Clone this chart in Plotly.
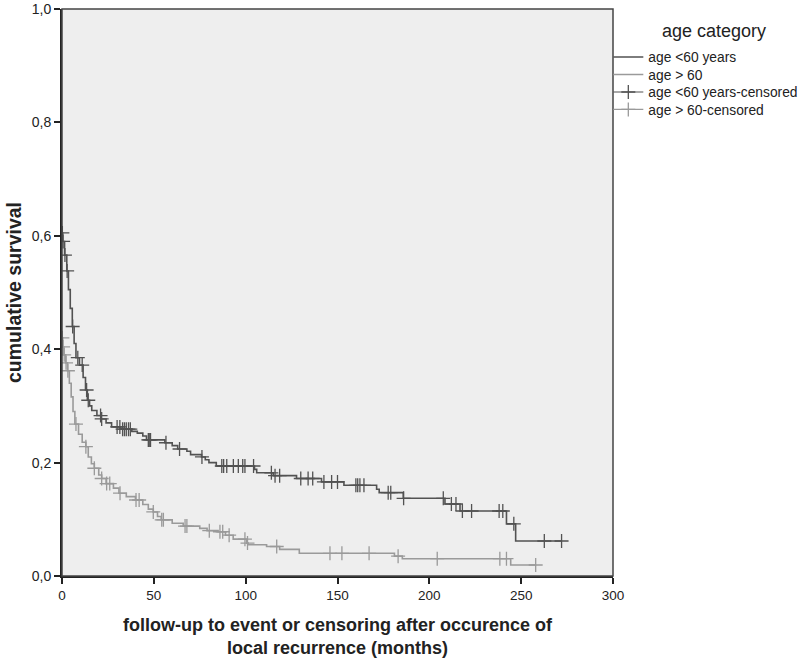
import plotly.graph_objects as go

# ---------------- data ----------------
# age < 60 years: step curve (time in months, cumulative survival after the step)
young_times = [0, 0.4, 1.4, 2.6, 3.5, 4.5, 5.6, 6.6, 7.6, 9.5, 11.5, 12.8, 13.8, 15.0, 16.2,
               19.0, 21.2, 24.0, 27.0, 32.0, 38.0, 41.0, 44.0, 46.0, 56.0, 60.0, 63.0, 68.0,
               70.0, 76.0, 78.0, 80.0, 84.0, 104.8, 106.0, 115.0, 127.7, 141.3, 153.5,
               171.3, 172.7, 185.8, 208.5, 216.7, 242.0, 247.0]
young_surv = [0.605, 0.59, 0.566, 0.538, 0.505, 0.472, 0.44, 0.41, 0.385, 0.372, 0.35, 0.328,
              0.31, 0.30, 0.292, 0.283, 0.277, 0.27, 0.263, 0.259, 0.255, 0.252, 0.247, 0.240,
              0.235, 0.230, 0.224, 0.220, 0.214, 0.210, 0.205, 0.200, 0.194, 0.188, 0.182,
              0.177, 0.172, 0.166, 0.160, 0.153, 0.147, 0.137, 0.127, 0.1146, 0.092, 0.0617]
young_end = 272.0
young_censored = [0.2, 0.6, 1.6, 2.8, 5.8, 8.6, 11.0, 13.4, 14.3, 21.0, 21.6, 30.0, 31.5, 33.0,
                  34.0, 35.0, 36.2, 37.2, 47.0, 47.5, 48.2, 56.6, 64.0, 76.2, 87.0, 88.0, 89.7,
                  93.3, 96.0, 98.4, 99.6, 104.3, 114.0, 116.0, 118.5, 130.0, 134.0, 136.5,
                  142.6, 146.8, 150.0, 160.0, 161.0, 162.2, 164.4, 177.6, 179.0, 186.0, 207.6,
                  212.0, 214.5, 218.0, 223.0, 238.0, 240.0, 246.0, 262.6, 272.0]

# age > 60
old_times = [0, 0.4, 1.0, 2.0, 3.0, 4.0, 5.0, 6.0, 7.0, 9.0, 11.0, 13.0, 14.3, 16.0, 17.6,
             20.0, 21.6, 24.0, 28.0, 31.0, 35.0, 40.0, 44.0, 47.0, 49.7, 52.0, 54.0, 60.0,
             66.0, 75.0, 79.0, 85.0, 89.0, 93.2, 100.5, 101.4, 111.4, 118.5, 129.2, 181.0,
             185.3, 244.3]
old_surv = [0.42, 0.404, 0.39, 0.376, 0.362, 0.34, 0.316, 0.29, 0.268, 0.25, 0.236, 0.228,
            0.21, 0.198, 0.19, 0.178, 0.172, 0.163, 0.155, 0.146, 0.140, 0.134, 0.126, 0.118,
            0.113, 0.105, 0.099, 0.093, 0.088, 0.084, 0.080, 0.078, 0.072, 0.065, 0.058,
            0.055, 0.052, 0.047, 0.040, 0.035, 0.0305, 0.0194]
old_end = 258.0
old_censored = [0.2, 0.6, 1.2, 2.2, 3.2, 7.6, 13.0, 17.6, 21.6, 24.3, 26.0, 31.6, 40.3, 42.0,
                49.7, 54.3, 55.2, 67.0, 68.0, 80.2, 86.0, 87.5, 91.0, 99.6, 101.0, 116.9,
                145.9, 152.4, 167.2, 183.0, 204.3, 238.4, 242.0, 257.9]

y_tick_vals = [0.0, 0.2, 0.4, 0.6, 0.8, 1.0]
y_tick_text = ["0,0", "0,2", "0,4", "0,6", "0,8", "1,0"]
x_tick_vals = [0, 50, 100, 150, 200, 250, 300]

names = ["age <60 years", "age > 60", "age <60 years-censored", "age > 60-censored"]

DARK = "#525252"
LIGHT = "#9a9a9a"
FONT = "Arial, Liberation Sans, sans-serif"


def surv_at(times, surv, t):
    s = surv[0]
    for ti, si in zip(times, surv):
        if ti <= t:
            s = si
    return s


def step_xy(times, surv, end):
    return list(times) + [end], list(surv) + [surv[-1]]


def censor_xy(times, surv, cens):
    xs, ys = [], []
    for c in cens:
        xs += [c, None]
        ys += [surv_at(times, surv, c), None]
    return xs, ys


legend_ids = ["legend", "legend2", "legend3", "legend4"]

fig = go.Figure()
for times, surv, end, color, name, lg in [
    (young_times, young_surv, young_end, DARK, names[0], legend_ids[0]),
    (old_times, old_surv, old_end, LIGHT, names[1], legend_ids[1]),
]:
    x, y = step_xy(times, surv, end)
    fig.add_trace(go.Scatter(x=x, y=y, mode="lines", line=dict(color=color, width=1.6, shape="hv"),
                             name=name, legend=lg))

for times, surv, cens, color, name, lg in [
    (young_times, young_surv, young_censored, DARK, names[2], legend_ids[2]),
    (old_times, old_surv, old_censored, LIGHT, names[3], legend_ids[3]),
]:
    x, y = censor_xy(times, surv, cens)
    fig.add_trace(go.Scatter(x=x, y=y, mode="lines+markers", connectgaps=False,
                             line=dict(color=color, width=1.2),
                             marker=dict(symbol="cross-thin", size=10,
                                         line=dict(color=color, width=1.3)),
                             name=name, legend=lg))

fig.add_shape(type="rect", xref="paper", yref="paper", x0=0, x1=1, y0=0, y1=1,
              line=dict(color="#444444", width=1.5), layer="above")

fig.add_annotation(text="age category", xref="paper", yref="paper", x=1.183, y=0.961,
                   xanchor="center", yanchor="middle", showarrow=False,
                   font=dict(family=FONT, size=18, color="#222222"))

legend_y = [0.9153, 0.8845, 0.8536, 0.8228]
legend_common = dict(x=0.9915, xanchor="left", yanchor="middle", bgcolor="rgba(0,0,0,0)",
                     font=dict(family=FONT, size=13.8, color="#222222"), itemwidth=30)

fig.update_layout(
    width=805, height=661,
    margin=dict(l=62, r=192, t=9, b=85, autoexpand=False),
    paper_bgcolor="white",
    plot_bgcolor="#eeeeee",
    font=dict(family=FONT, size=13, color="#222222"),
    showlegend=True,
    legend=dict(y=legend_y[0], **legend_common),
    legend2=dict(y=legend_y[1], **legend_common),
    legend3=dict(y=legend_y[2], **legend_common),
    legend4=dict(y=legend_y[3], **legend_common),
    xaxis=dict(range=[0, 300], tickvals=x_tick_vals, ticks="outside", ticklen=6, tickwidth=2,
               tickcolor="#222222", showline=True, linecolor="#222222", linewidth=2,
               showgrid=False, zeroline=False, tickfont=dict(size=13.5),
               title=dict(text="<b>follow-up to event or censoring after occurence of<br>local recurrence (months)</b>",
                          font=dict(size=18, family=FONT, color="#222222"), standoff=16)),
    yaxis=dict(range=[0, 1.0], tickvals=y_tick_vals, ticktext=y_tick_text, ticks="outside",
               ticklen=6, tickwidth=2, tickcolor="#222222", showline=True, linecolor="#222222",
               linewidth=2, showgrid=False, zeroline=False, tickfont=dict(size=14),
               title=dict(text="<b>cumulative survival</b>",
                          font=dict(size=19.5, family=FONT, color="#222222"), standoff=5)),
)

fig.write_html("out.html")
